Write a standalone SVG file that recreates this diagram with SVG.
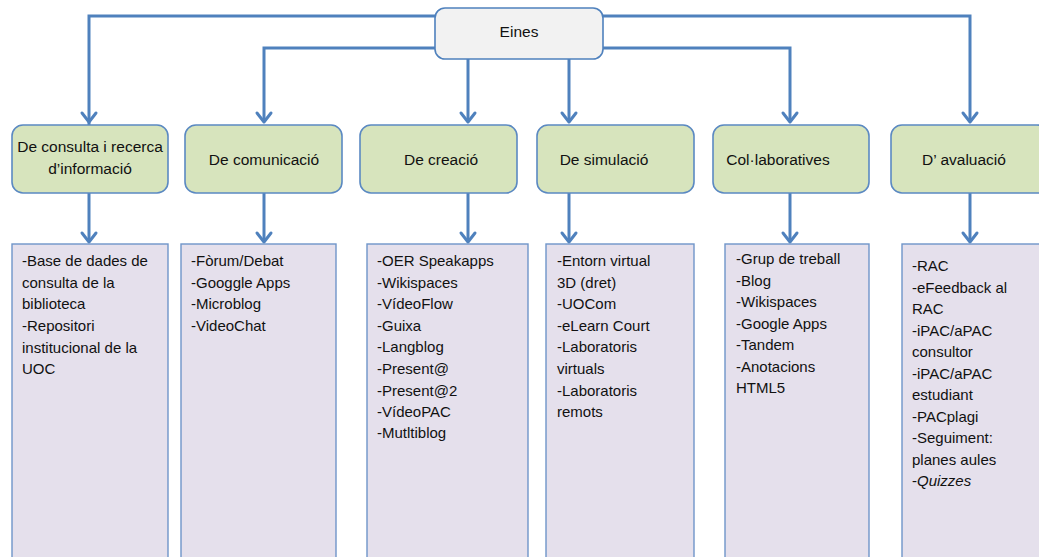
<svg xmlns="http://www.w3.org/2000/svg" width="1039" height="557" viewBox="0 0 1039 557">
<defs>
<style>
.root{fill:#f2f2f2;stroke:#4f81bd;stroke-width:1.6}
.cat{fill:#d7e4bd;stroke:#5b89c2;stroke-width:1.6}
.list{fill:#e5e0ec;stroke:#6f95c9;stroke-width:1.4}
.conn{fill:none;stroke:#4f81bd;stroke-width:3}
.head{fill:none;stroke:#4f81bd;stroke-width:3;stroke-linecap:round;stroke-linejoin:round}
text{font-family:"Liberation Sans",Arial,sans-serif;fill:#111}
.h{font-size:15.5px;text-anchor:middle}
.t{font-size:15px}
</style>
</defs>
<rect width="1039" height="557" fill="#ffffff"/>
<g id="connectors">
<path class="conn" d="M435,16 H89 V241"/>
<path class="conn" d="M435,48 H264 V121"/>
<path class="conn" d="M468,59 V121"/>
<path class="conn" d="M569,59 V121"/>
<path class="conn" d="M603,48 H790 V121"/>
<path class="conn" d="M603,16 H970 V121"/>
<path class="conn" d="M264,193 V241"/>
<path class="conn" d="M468,193 V241"/>
<path class="conn" d="M569,193 V241"/>
<path class="conn" d="M790,193 V241"/>
<path class="conn" d="M970,193 V241"/>
<path class="head" d="M82,113 L89,122 L96,113"/>
<path class="head" d="M257,113 L264,122 L271,113"/>
<path class="head" d="M461,113 L468,122 L475,113"/>
<path class="head" d="M562,113 L569,122 L576,113"/>
<path class="head" d="M783,113 L790,122 L797,113"/>
<path class="head" d="M963,113 L970,122 L977,113"/>
<path class="head" d="M82,233 L89,242 L96,233"/>
<path class="head" d="M257,233 L264,242 L271,233"/>
<path class="head" d="M461,233 L468,242 L475,233"/>
<path class="head" d="M562,233 L569,242 L576,233"/>
<path class="head" d="M783,233 L790,242 L797,233"/>
<path class="head" d="M963,233 L970,242 L977,233"/>
</g>
<g id="eines">
<rect class="root" x="435" y="8" width="168" height="51" rx="10"/>
<text class="h" x="519" y="37">Eines</text>
</g>
<g id="cat1">
<rect class="cat" x="12" y="125" width="156" height="68" rx="11"/>
<text class="h" x="90" y="152">De consulta i recerca</text>
<text class="h" x="90" y="174">d’informació</text>
</g>
<g id="cat2">
<rect class="cat" x="185" y="125" width="157" height="68" rx="11"/>
<text class="h" x="264" y="165">De comunicació</text>
</g>
<g id="cat3">
<rect class="cat" x="360" y="125" width="157" height="68" rx="11"/>
<text class="h" x="441" y="165">De creació</text>
</g>
<g id="cat4">
<rect class="cat" x="537" y="125" width="157" height="68" rx="11"/>
<text class="h" x="604" y="165">De simulació</text>
</g>
<g id="cat5">
<rect class="cat" x="713" y="125" width="156" height="68" rx="11"/>
<text class="h" x="778" y="165">Col·laboratives</text>
</g>
<g id="cat6">
<rect class="cat" x="891" y="125" width="157" height="68" rx="11"/>
<text class="h" x="964" y="165">D’ avaluació</text>
</g>
<g id="list1">
<rect class="list" x="12" y="244" width="156" height="330"/>
<text class="t" x="22" y="266">-Base de dades de</text>
<text class="t" x="22" y="288">consulta de la</text>
<text class="t" x="22" y="309">biblioteca</text>
<text class="t" x="22" y="331">-Repositori</text>
<text class="t" x="22" y="353">institucional de la</text>
<text class="t" x="22" y="374">UOC</text>
</g>
<g id="list2">
<rect class="list" x="181" y="244" width="155" height="330"/>
<text class="t" x="191" y="266">-Fòrum/Debat</text>
<text class="t" x="191" y="288">-Googgle Apps</text>
<text class="t" x="191" y="309">-Microblog</text>
<text class="t" x="191" y="331">-VideoChat</text>
</g>
<g id="list3">
<rect class="list" x="367" y="244" width="161" height="330"/>
<text class="t" x="377" y="266">-OER Speakapps</text>
<text class="t" x="377" y="288">-Wikispaces</text>
<text class="t" x="377" y="309">-VídeoFlow</text>
<text class="t" x="377" y="331">-Guixa</text>
<text class="t" x="377" y="352">-Langblog</text>
<text class="t" x="377" y="374">-Present@</text>
<text class="t" x="377" y="396">-Present@2</text>
<text class="t" x="377" y="417">-VídeoPAC</text>
<text class="t" x="377" y="438">-Mutltiblog</text>
</g>
<g id="list4">
<rect class="list" x="546" y="244" width="148" height="330"/>
<text class="t" x="557" y="266">-Entorn virtual</text>
<text class="t" x="557" y="288">3D (dret)</text>
<text class="t" x="557" y="309">-UOCom</text>
<text class="t" x="557" y="331">-eLearn Court</text>
<text class="t" x="557" y="352">-Laboratoris</text>
<text class="t" x="557" y="374">virtuals</text>
<text class="t" x="557" y="396">-Laboratoris</text>
<text class="t" x="557" y="417">remots</text>
</g>
<g id="list5">
<rect class="list" x="725" y="244" width="144" height="330"/>
<text class="t" x="736" y="264">-Grup de treball</text>
<text class="t" x="736" y="286">-Blog</text>
<text class="t" x="736" y="307">-Wikispaces</text>
<text class="t" x="736" y="329">-Google Apps</text>
<text class="t" x="736" y="350">-Tandem</text>
<text class="t" x="736" y="372">-Anotacions</text>
<text class="t" x="736" y="393">HTML5</text>
</g>
<g id="list6">
<rect class="list" x="902" y="244" width="160" height="330"/>
<text class="t" x="912" y="271">-RAC</text>
<text class="t" x="912" y="293">-eFeedback al</text>
<text class="t" x="912" y="314">RAC</text>
<text class="t" x="912" y="336">-iPAC/aPAC</text>
<text class="t" x="912" y="357">consultor</text>
<text class="t" x="912" y="379">-iPAC/aPAC</text>
<text class="t" x="912" y="400">estudiant</text>
<text class="t" x="912" y="422">-PACplagi</text>
<text class="t" x="912" y="443">-Seguiment:</text>
<text class="t" x="912" y="465">planes aules</text>
<text class="t" x="912" y="486">-<tspan font-style="italic">Quizzes</tspan></text>
</g>
</svg>
